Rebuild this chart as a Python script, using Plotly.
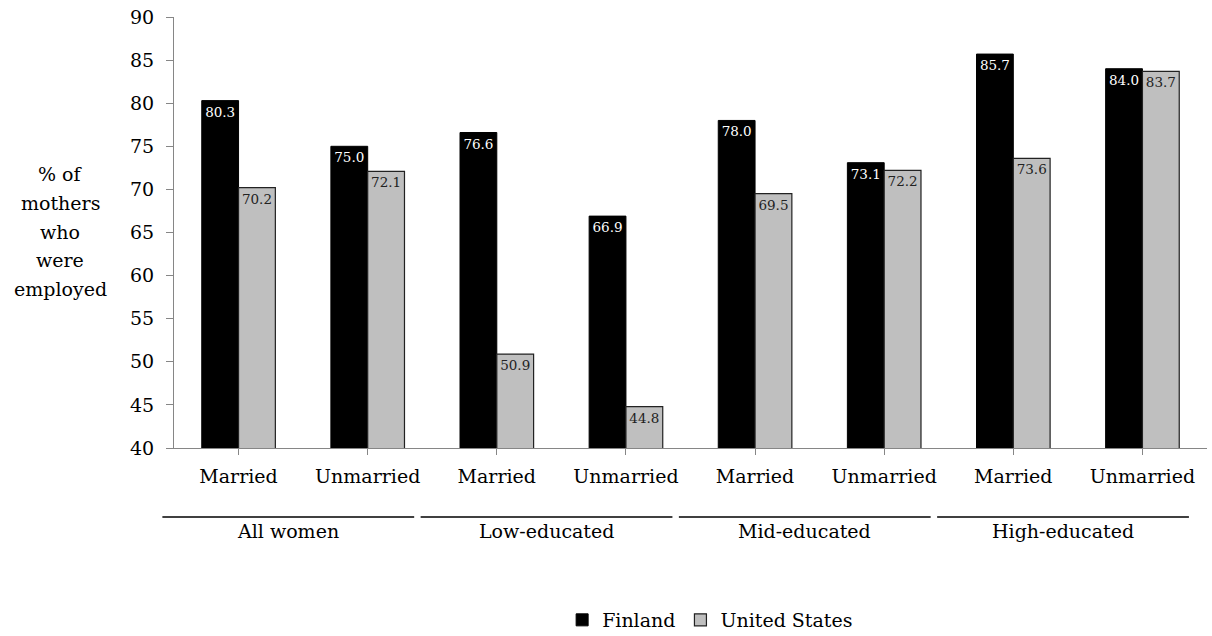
import plotly.graph_objects as go

categories = ["Married", "Unmarried", "Married", "Unmarried", "Married", "Unmarried", "Married", "Unmarried"]
groups = ["All women", "Low-educated", "Mid-educated", "High-educated"]
finland = [80.3, 75.0, 76.6, 66.9, 78.0, 73.1, 85.7, 84.0]
united_states = [70.2, 72.1, 50.9, 44.8, 69.5, 72.2, 73.6, 83.7]
y_title_lines = ["% of", "mothers", "who", "were", "employed"]

FONT = "DejaVu Serif"
x_idx = list(range(len(categories)))

fig = go.Figure()
fig.add_trace(go.Bar(
    x=x_idx, y=finland, name="Finland",
    marker=dict(color="#000000", line=dict(color="#000000", width=1)),
    text=[f"{v:.1f}" for v in finland], textposition="inside",
    insidetextanchor="end", textangle=0, constraintext="none",
    textfont=dict(color="white", size=13.5, family=FONT),
))
fig.add_trace(go.Bar(
    x=x_idx, y=united_states, name="United States",
    marker=dict(color="#BFBFBF", line=dict(color="#222222", width=1.2)),
    text=[f"{v:.1f}" for v in united_states], textposition="inside",
    insidetextanchor="end", textangle=0, constraintext="none",
    textfont=dict(color="#222222", size=13.5, family=FONT),
))

n = len(categories)
plot_top, plot_bottom, page_h = 17, 448, 636
ph = plot_bottom - plot_top

def py(pix):
    return (plot_bottom - pix) / ph

annotations = []
shapes = []
for g, name in enumerate(groups):
    start = (2 * g - 0.09) / n
    end = (2 * g + 1.86) / n
    shapes.append(dict(type="line", xref="paper", yref="paper",
                       x0=start, x1=end, y0=py(517), y1=py(517),
                       line=dict(color="black", width=1.5)))
    annotations.append(dict(text=name, xref="paper", yref="paper",
                            x=(start + end) / 2, y=py(531), xanchor="center", yanchor="middle",
                            showarrow=False, font=dict(size=19, family=FONT, color="black")))

for i, line in enumerate(y_title_lines):
    ypix = 174 + 28.8 * i
    annotations.append(dict(text=line, xref="paper", yref="paper",
                            x=-0.110, y=py(ypix),
                            xanchor="center", yanchor="middle", showarrow=False,
                            font=dict(size=19, family=FONT, color="black")))

fig.update_layout(
    width=1212, height=636,
    margin=dict(l=174, r=5, t=17, b=188, autoexpand=False),
    paper_bgcolor="white", plot_bgcolor="white",
    font=dict(family=FONT, size=19, color="black"),
    barmode="group", bargap=0.43, bargroupgap=0,
    showlegend=True,
    legend=dict(orientation="h", x=0.519, xanchor="center",
                yref="container", y=(page_h - 620) / page_h, yanchor="middle",
                font=dict(size=19, family=FONT), traceorder="normal", itemwidth=30),
    annotations=annotations, shapes=shapes,
)
fig.update_xaxes(
    tickmode="array", tickvals=x_idx, ticktext=categories,
    range=[-0.5, n - 0.5], showline=True, linecolor="#868686", linewidth=1,
    ticks="outside", tickson="boundaries", ticklen=6, tickcolor="#868686",
    ticklabelstandoff=5, tickfont=dict(size=19, family=FONT),
    showgrid=False, zeroline=False, automargin=False,
)
fig.update_yaxes(
    range=[40, 90], dtick=5, showline=True, linecolor="#868686", linewidth=1,
    ticks="outside", ticklen=7, tickcolor="#868686", ticklabelstandoff=8,
    tickfont=dict(size=19, family=FONT), showgrid=False, zeroline=False, automargin=False,
)

fig.write_html("out.html")
